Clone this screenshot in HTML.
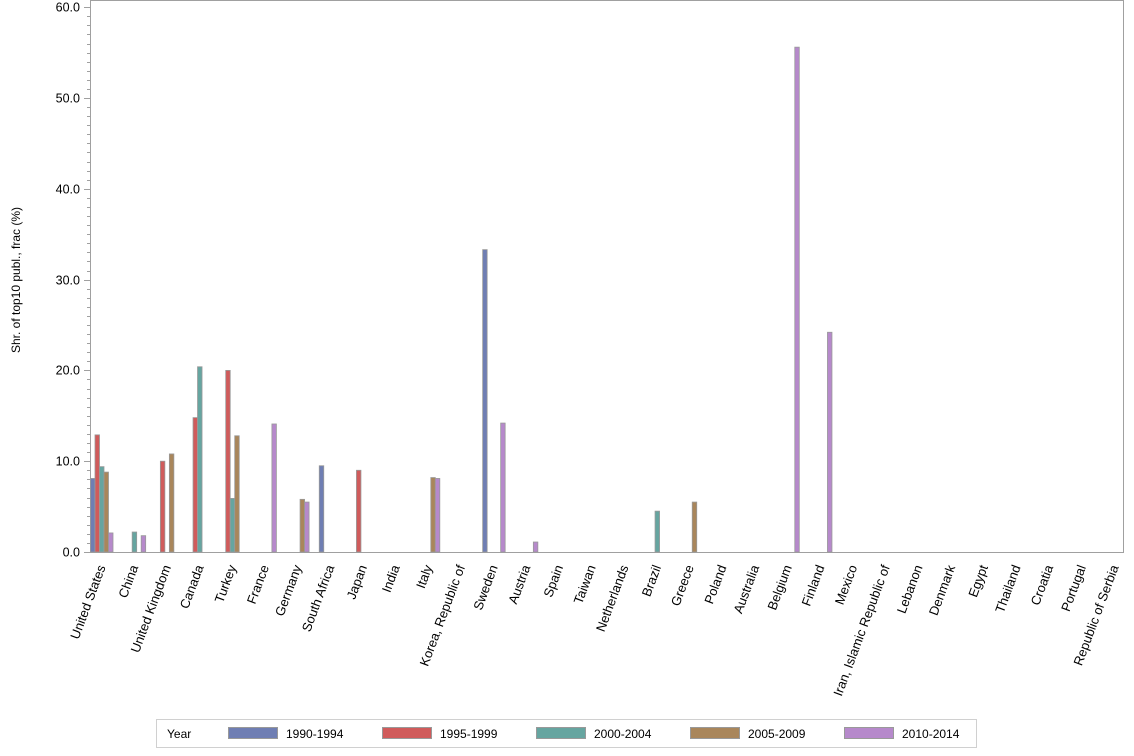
<!DOCTYPE html>
<html><head><meta charset="utf-8"><style>body{margin:0;background:#fff}svg{display:block}text{font-family:"Liberation Sans",sans-serif;fill:#000}</style></head>
<body>
<svg width="1134" height="756" xmlns="http://www.w3.org/2000/svg" id="s">
<rect x="90.5" y="0.5" width="1033" height="552" fill="none" stroke="#a0a0a0"/>
<g id="ax"></g>
<g id="bars"></g>
<g id="lab" font-size="13"></g>
<text transform="translate(20,280) rotate(-90)" text-anchor="middle" font-size="12">Shr. of top10 publ., frac (%)</text>
<rect x="156.5" y="719.5" width="820" height="28" fill="#fff" stroke="#d0d0d0"/>
<g font-size="12">
<text x="167" y="738">Year</text>
<rect x="228.5" y="727.5" width="49" height="11" fill="#6f7eb3" stroke="#999"/><text x="286" y="738">1990-1994</text>
<rect x="382.5" y="727.5" width="49" height="11" fill="#d05b5b" stroke="#999"/><text x="440" y="738">1995-1999</text>
<rect x="536.5" y="727.5" width="49" height="11" fill="#66a5a0" stroke="#999"/><text x="594" y="738">2000-2004</text>
<rect x="690.5" y="727.5" width="49" height="11" fill="#a9865b" stroke="#999"/><text x="748" y="738">2005-2009</text>
<rect x="844.5" y="727.5" width="49" height="11" fill="#b689cb" stroke="#999"/><text x="902" y="738">2010-2014</text>
</g>
</svg>
<script>
const ns="http://www.w3.org/2000/svg";
function el(p,t,a,txt){const e=document.createElementNS(ns,t);for(const k in a)e.setAttribute(k,a[k]);if(txt!=null)e.textContent=txt;document.getElementById(p).appendChild(e);}
const y0=552,sc=9.08;
for(let v=0;v<=60;v++){const y=Math.round(y0-v*sc)+0.5;const maj=v%10==0;
el('ax','line',{x1:maj?84:87,x2:90,y1:y,y2:y,stroke:'#a0a0a0'});
if(maj)el('ax','text',{x:80,y:y+4,'text-anchor':'end','font-size':12.5},v.toFixed(1));}
const names=["United States","China","United Kingdom","Canada","Turkey","France","Germany","South Africa","Japan","India","Italy","Korea, Republic of","Sweden","Austria","Spain","Taiwan","Netherlands","Brazil","Greece","Poland","Australia","Belgium","Finland","Mexico","Iran, Islamic Republic of","Lebanon","Denmark","Egypt","Thailand","Croatia","Portugal","Republic of Serbia"];
const cols=["#6f7eb3","#d05b5b","#66a5a0","#a9865b","#b689cb"];
const data={0:[8.1,12.9,9.4,8.8,2.1],1:[0,0,2.2,0,1.8],2:[0,10.0,0,10.8,0],3:[0,14.8,20.4,0,0],4:[0,20.0,5.9,12.8,0],5:[0,0,0,0,14.1],6:[0,0,0,5.8,5.5],7:[9.5,0,0,0,0],8:[0,9.0,0,0,0],10:[0,0,0,8.2,8.1],12:[33.3,0,0,0,14.2],13:[0,0,0,0,1.1],17:[0,0,4.5,0,0],18:[0,0,0,5.5,0],21:[0,0,0,0,55.6],22:[0,0,0,0,24.2]};
const s=32.68;
names.forEach((n,i)=>{const c=101.75+i*s;
const d=data[i];if(d)d.forEach((v,j)=>{if(!v)return;const x=c-11.25+j*4.5;const h=v*sc;
el('bars','rect',{x:x,y:y0-h,width:4.5,height:h,fill:cols[j],stroke:'#999','stroke-width':0.8});});
el('lab','text',{transform:`translate(${c+4},567) rotate(-69.5)`,'text-anchor':'end'},n);});
</script>
</body></html>
